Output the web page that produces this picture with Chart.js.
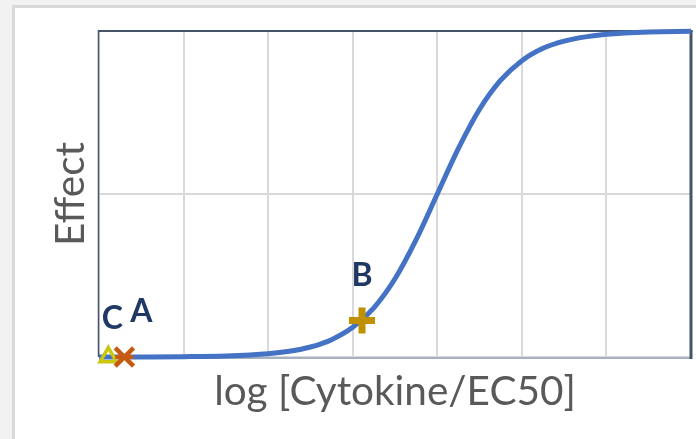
<!DOCTYPE html>
<html>
<head>
<meta charset="utf-8">
<title>Cytokine dose-response</title>
<script src="https://cdn.jsdelivr.net/npm/chart.js@4.4.1/dist/chart.umd.min.js"></script>
<style>
  html, body { margin: 0; padding: 0; background: #f2f2f2; overflow: hidden; }
  #panel { position: absolute; left: 12px; top: 5px; width: 700px; height: 450px;
           background: #ffffff; border: 3px solid #d9d9d9; }
  #wrap { position: absolute; left: 0; top: 0; width: 696px; height: 439px; }
</style>
</head>
<body>
<div id="panel"></div>
<div id="wrap"><canvas id="chart" width="696" height="439"></canvas></div>
<script>
// Dose-response curve: log concentration (relative to EC50) vs. effect
const logDose = [-4, -3.5, -3, -2.5, -2, -1.75, -1.5, -1.25, -1, -0.75, -0.5, -0.25,
                 0, 0.25, 0.5, 0.75, 1, 1.25, 1.5, 1.75, 2, 2.5, 3];
const effect = [0.0001, 0.0003, 0.001, 0.0032, 0.0099, 0.0175, 0.0307, 0.0532, 0.0909,
                0.151, 0.240, 0.360, 0.500, 0.640, 0.760, 0.849, 0.909, 0.947, 0.969,
                0.982, 0.990, 0.997, 0.999];

// Labelled conditions on the curve
const markerNames = ['A', 'B', 'C'];
const markerDose = [-3.70, -0.89, -3.89];
const markerEffect = [0.0, 0.112, 0.0];

// Axis range and grid steps
const xRange = [-4, 3];
const yRange = [0, 1];
const xStep = 1;
const yStep = 0.5;

const FONT = 'Lato, "Open Sans", sans-serif';
const LABEL_COLOR = '#1f3864';

const markerLook = {
  A: [{ pointStyle: 'crossRot', radius: 13, borderWidth: 4.5, color: '#c55a11' },
      { pointStyle: 'line', radius: 9, borderWidth: 4, color: '#c55a11' }],
  B: [{ pointStyle: 'cross', radius: 13, borderWidth: 7, color: '#bf9000' }],
  C: [{ pointStyle: 'triangle', radius: 9.5, borderWidth: 3.5, color: '#c9c710' }]
};
const labelOffset = { A: [17, -45], B: [0, -45], C: [4, -38] };

const curve = logDose.map((x, i) => ({ x: x, y: effect[i] }));

const markerSets = [];
markerNames.forEach((name, i) => {
  markerLook[name].forEach((look, k) => {
    markerSets.push({
      type: 'scatter',
      data: [{ x: markerDose[i], y: markerEffect[i] }],
      pointStyle: look.pointStyle,
      pointRadius: look.radius,
      pointBorderWidth: look.borderWidth,
      pointBorderColor: look.color,
      pointBackgroundColor: 'rgba(0,0,0,0)',
      showLine: false,
      clip: false,
      tag: k === 0 ? name : null
    });
  });
});

// Plot frame: dark top/left/right edges, light bottom edge
const plotFrame = {
  id: 'plotFrame',
  beforeDatasetsDraw(chart) {
    const { ctx, chartArea: a } = chart;
    ctx.save();
    ctx.lineCap = 'butt';
    ctx.strokeStyle = '#a7b0be';
    ctx.lineWidth = 2;
    ctx.beginPath(); ctx.moveTo(a.left, a.bottom + 1); ctx.lineTo(a.right, a.bottom + 1); ctx.stroke();
    ctx.strokeStyle = '#44546a';
    ctx.lineWidth = 1.5;
    ctx.beginPath(); ctx.moveTo(a.left - 0.5, a.top - 1); ctx.lineTo(a.left - 0.5, a.bottom); ctx.stroke();
    ctx.lineWidth = 2;
    ctx.beginPath(); ctx.moveTo(a.left - 1, a.top); ctx.lineTo(a.right + 1.5, a.top); ctx.stroke();
    ctx.lineWidth = 3;
    ctx.beginPath(); ctx.moveTo(a.right, a.top - 1); ctx.lineTo(a.right, a.bottom + 2); ctx.stroke();
    ctx.restore();
  }
};

// Letter tags above each marker
const markerTags = {
  id: 'markerTags',
  afterDatasetsDraw(chart) {
    const { ctx } = chart;
    ctx.save();
    ctx.font = 'bold 32px ' + FONT;
    ctx.fillStyle = LABEL_COLOR;
    ctx.textAlign = 'center';
    ctx.textBaseline = 'middle';
    chart.data.datasets.forEach((ds, i) => {
      if (!ds.tag) return;
      const pt = chart.getDatasetMeta(i).data[0];
      const off = labelOffset[ds.tag];
      ctx.fillText(ds.tag, pt.x + off[0], pt.y + off[1]);
    });
    ctx.restore();
  }
};

new Chart(document.getElementById('chart'), {
  type: 'line',
  data: {
    datasets: markerSets.concat([{
      data: curve,
      borderColor: '#4472c4',
      borderWidth: 5,
      pointRadius: 0,
      cubicInterpolationMode: 'monotone',
      fill: false,
      clip: false
    }])
  },
  options: {
    responsive: false,
    animation: false,
    events: [],
    layout: { autoPadding: false, padding: { top: 31, right: 5, left: 0, bottom: 0 } },
    plugins: { legend: { display: false }, tooltip: { enabled: false } },
    scales: {
      x: {
        type: 'linear',
        min: xRange[0], max: xRange[1],
        ticks: { display: false, stepSize: xStep },
        grid: { color: '#d9d9d9', lineWidth: 2, drawTicks: false },
        border: { display: false },
        title: {
          display: true, text: 'log [Cytokine/EC50]', color: '#595959',
          font: { family: FONT, size: 40.5 }, padding: { top: 0, bottom: 22.5 }
        },
        afterFit(scale) { scale.height = 82; }
      },
      y: {
        min: yRange[0], max: yRange[1],
        ticks: { display: false, stepSize: yStep },
        grid: { color: '#d9d9d9', lineWidth: 2, drawTicks: false },
        border: { display: false },
        title: {
          display: true, text: 'Effect', color: '#595959',
          font: { family: FONT, size: 40.5 }, padding: { top: 46.5, bottom: 0 }
        },
        afterFit(scale) { scale.width = 99; }
      }
    }
  },
  plugins: [plotFrame, markerTags]
});
</script>
</body>
</html>
